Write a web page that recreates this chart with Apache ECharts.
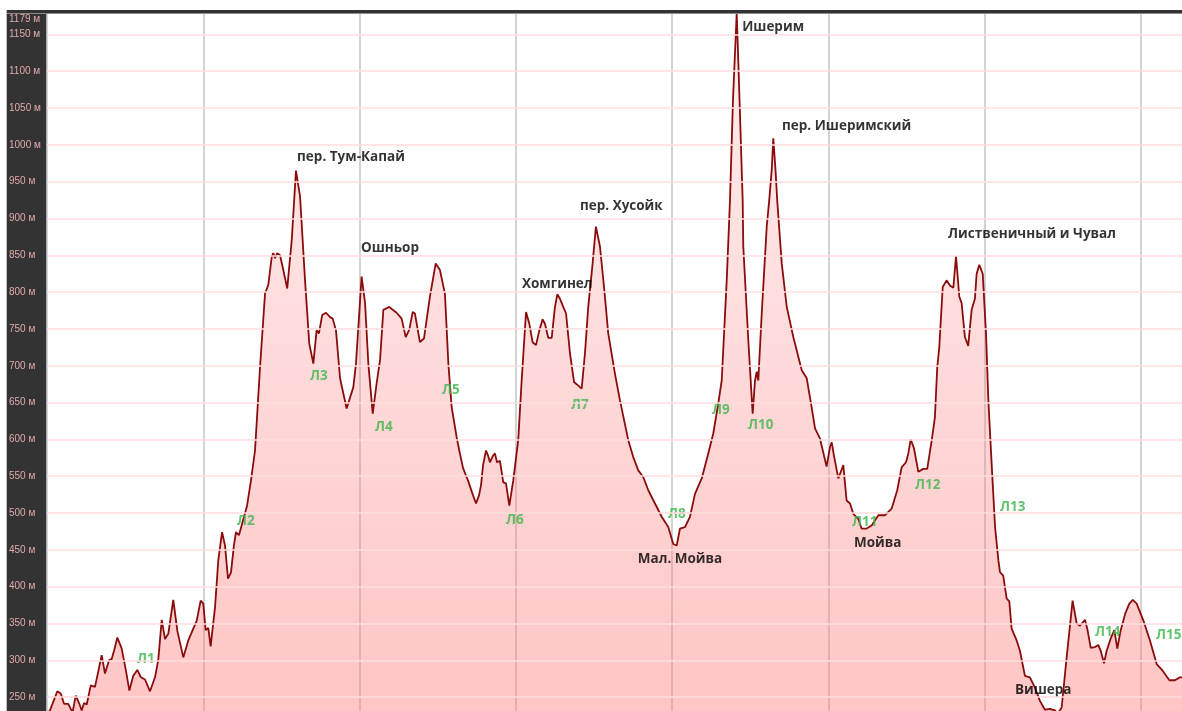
<!DOCTYPE html>
<html>
<head>
<meta charset="utf-8">
<style>
  html, body { margin: 0; padding: 0; background: #fff; }
  #main { width: 1182px; height: 711px; }
</style>
<script src="https://cdn.jsdelivr.net/npm/echarts@6/dist/echarts.min.js"></script>
</head>
<body>
<div id="main"></div>
<script>
// Профиль маршрута: [км, высота м]
const profile = [
  [0,228],[0.19,232],[0.66,258],[0.88,255],[1.09,241],[1.36,241],[1.52,234],[1.64,230],[1.84,252],[2.07,241],
  [2.22,232],[2.37,242],[2.54,240],[2.80,266],[3.07,264],[3.50,307],[3.71,282],[3.97,300],[4.14,302],[4.29,313],
  [4.50,331],[4.78,316],[5.05,286],[5.27,259],[5.52,279],[5.78,287],[6.01,277],[6.27,274],[6.38,275],[6.59,258],
  [6.91,277],[7.12,301],[7.34,355],[7.55,329],[7.76,336],[8.08,382],[8.34,340],[8.72,304],[9.04,327],[9.32,341],
  [9.58,354],[9.83,381],[10.00,377],[10.15,341],[10.32,344],[10.47,319],[10.75,372],[10.96,436],[11.20,474],[11.39,456],
  [11.58,411],[11.77,419],[11.96,456],[12.09,474],[12.28,470],[12.54,490],[12.80,510],[13.05,544],[13.31,585],
  [13.63,698],[13.95,798],[14.16,810],[14.38,848],[14.48,853],[14.59,846],[14.73,853],[14.91,850],[15.12,830],[15.37,805],
  [15.66,871],[15.93,965],[16.19,930],[16.51,816],[16.78,730],[17.04,703],[17.25,748],[17.40,744],[17.61,769],[17.85,772],
  [18.11,766],[18.28,764],[18.49,748],[18.75,683],[19.17,642],[19.60,671],[19.77,703],[20.13,821],[20.35,785],[20.56,703],
  [20.84,635],[21.09,676],[21.31,708],[21.52,776],[21.73,778],[21.90,780],[22.12,776],[22.37,772],[22.69,764],[22.95,739],
  [23.18,749],[23.40,773],[23.54,771],[23.86,732],[24.12,737],[24.50,794],[24.87,839],[25.14,830],[25.46,798],[25.68,703],
  [25.89,644],[26.21,603],[26.38,585],[26.62,561],[26.94,544],[27.26,524],[27.45,513],[27.64,524],[27.77,538],[27.90,565],
  [28.09,585],[28.22,578],[28.34,569],[28.54,578],[28.66,581],[28.79,569],[28.98,571],[29.19,542],[29.37,540],[29.58,510],
  [29.83,544],[30.15,599],[30.37,680],[30.65,773],[30.86,757],[31.07,732],[31.29,728],[31.50,748],[31.71,763],[31.86,757],
  [32.07,738],[32.29,738],[32.50,780],[32.65,797],[32.82,791],[32.99,782],[33.21,771],[33.46,717],[33.72,678],[33.99,673],
  [34.21,669],[34.42,717],[34.63,780],[34.91,839],[35.12,889],[35.38,862],[35.64,807],[35.91,744],[36.34,689],[36.66,653],
  [37.19,599],[37.51,576],[37.83,558],[38.15,549],[38.47,531],[38.90,513],[39.33,495],[39.75,481],[40.07,458],[40.29,456],
  [40.50,479],[40.82,481],[41.14,495],[41.46,526],[41.89,547],[42.31,581],[42.63,608],[42.95,649],[43.17,680],[43.49,816],
  [43.70,925],[43.89,1061],[44.13,1179],[44.31,1061],[44.51,925],[44.55,862],[44.87,735],[45.15,635],[45.30,680],[45.41,692],
  [45.51,680],[45.73,771],[46.05,889],[46.21,925],[46.37,966],[46.47,1009],[46.61,966],[46.72,925],[47.01,839],[47.33,780],
  [47.75,739],[48.29,694],[48.61,683],[48.92,644],[49.14,615],[49.46,601],[49.88,563],[50.10,590],[50.21,596],[50.35,578],
  [50.63,547],[50.95,565],[51.16,517],[51.38,513],[51.59,499],[51.91,492],[52.12,479],[52.44,479],[52.76,483],[53.19,497],
  [53.61,497],[54.04,506],[54.40,531],[54.68,562],[54.96,569],[55.11,581],[55.26,600],[55.47,588],[55.75,556],[56.07,560],
  [56.32,560],[56.60,598],[56.81,630],[56.96,698],[57.09,725],[57.31,807],[57.56,816],[57.77,809],[57.99,806],[58.16,849],
  [58.37,794],[58.52,785],[58.73,739],[58.94,727],[59.16,776],[59.37,791],[59.48,825],[59.65,837],[59.87,825],[60.08,744],
  [60.23,653],[60.45,563],[60.66,481],[60.87,436],[60.97,420],[61.18,415],[61.40,384],[61.57,380],[61.72,343],[62.04,327],
  [62.25,313],[62.57,279],[62.89,277],[63.21,263],[63.53,245],[63.85,233],[64.17,234],[64.49,232],[64.68,228],[64.92,236],
  [65.24,304],[65.62,381],[65.88,350],[66.09,347],[66.20,345],[66.41,355],[66.56,343],[66.78,317],[67.05,318],[67.26,321],
  [67.42,313],[67.63,296],[67.80,313],[68.08,331],[68.29,341],[68.48,316],[68.70,341],[68.98,363],[69.25,377],[69.47,382],
  [69.72,377],[70.15,354],[70.57,327],[71.00,295],[71.38,286],[71.81,273],[72.17,273],[72.49,277],[72.62,277]
];

// Подписи перевалов и рек: [текст, км, м]
const places = [
  ['пер. Тум-Капай', 16.00, 983],
  ['Ошньор', 20.09, 860],
  ['Хомгинел', 30.39, 811],
  ['пер. Хусойк', 34.10, 917],
  ['Ишерим', 44.48, 1160],
  ['пер. Ишеримский', 47.03, 1026],
  ['Лиственичный и Чувал', 57.65, 879],
  ['Мал. Мойва', 37.80, 437],
  ['Мойва', 51.63, 459],
  ['Вишера', 61.93, 259]
];

// Ночёвки (лагеря): [текст, км, м]
const camps = [
  ['Л1', 5.76, 302], ['Л2', 12.16, 489], ['Л3', 16.83, 686], ['Л4', 20.99, 616],
  ['Л5', 25.27, 667], ['Л6', 29.37, 490], ['Л7', 33.53, 646], ['Л8', 39.73, 498],
  ['Л9', 42.55, 640], ['Л10', 44.85, 619], ['Л11', 51.50, 487], ['Л12', 55.53, 538],
  ['Л13', 60.97, 508], ['Л14', 67.05, 338], ['Л15', 70.95, 334]
];

// Шкалы
const yMin = 200, yMax = 1179, yStep = 50;
const xMin = 0, xMax = 72.62, xStep = 10;

const chart = echarts.init(document.getElementById('main'));

function labelSeries(items, style) {
  return {
    type: 'scatter',
    symbolSize: 0,
    silent: true,
    z: 5,
    data: items.map(p => ({ name: p[0], value: [p[1], p[2]] })),
    label: Object.assign({
      show: true,
      position: 'right',
      distance: 0,
      formatter: '{b}',
      fontFamily: 'Open Sans'
    }, style)
  };
}

const option = {
  backgroundColor: '#ffffff',
  animation: false,
  grid: { left: 47, right: 0, top: 13, bottom: -23, outerBoundsMode: 'none', containLabel: false },
  graphic: {
    elements: [
      // тёмная панель слева
      { type: 'rect', z: -10, shape: { x: 7, y: 10, width: 40, height: 701 }, style: { fill: '#333333' } },
      { type: 'rect', z: -9, shape: { x: 46, y: 10, width: 1, height: 701 }, style: { fill: '#6a6a6a' } },
      { type: 'rect', z: -9, shape: { x: 6, y: 10, width: 1, height: 701 }, style: { fill: '#bdbdbd' } },
      // тёмная полоса сверху
      { type: 'rect', z: 20, shape: { x: 7, y: 10, width: 1175, height: 3 }, style: { fill: '#333333' } },
      { type: 'rect', z: 20, shape: { x: 7, y: 13, width: 1175, height: 1 }, style: { fill: '#8a8a8a' } }
    ]
  },
  xAxis: {
    type: 'value',
    min: xMin,
    max: xMax,
    interval: xStep,
    axisLine: { show: false },
    axisTick: { show: false },
    axisLabel: { show: false },
    splitLine: { show: true, showMaxLine: false, lineStyle: { color: '#c4c4c4', width: 1.5 } }
  },
  yAxis: {
    type: 'value',
    min: yMin,
    max: yMax,
    interval: yStep,
    z: 10,
    axisLine: { show: false },
    axisTick: { show: false },
    axisLabel: {
      align: 'left',
      margin: 38,
      color: '#e2a9a9',
      fontSize: 10,
      fontFamily: 'Liberation Sans',
      formatter: v => v === yMax ? '{top|' + v + ' м}' : v + ' м',
      rich: { top: { padding: [12, 0, 0, 0], color: '#e2a9a9', fontSize: 10, fontFamily: 'Liberation Sans' } }
    },
    splitLine: { show: true, lineStyle: { color: '#ffdcdc', width: 1.5 } }
  },
  series: [
    {
      type: 'line',
      data: profile,
      symbol: 'none',
      z: 3,
      lineStyle: { color: '#8b0c0c', width: 1.8 },
      areaStyle: {
        color: new echarts.graphic.LinearGradient(0, 0, 0, 1, [
          { offset: 0, color: 'rgba(255,120,120,0.18)' },
          { offset: 1, color: 'rgba(255,120,120,0.62)' }
        ])
      }
    },
    labelSeries(places, { color: '#000000', fontSize: 13.5, fontWeight: 'bold' }),
    labelSeries(camps, { color: '#3bb54a', fontSize: 13.5, fontWeight: 'bold' })
  ]
};

chart.setOption(option);
</script>
</body>
</html>
